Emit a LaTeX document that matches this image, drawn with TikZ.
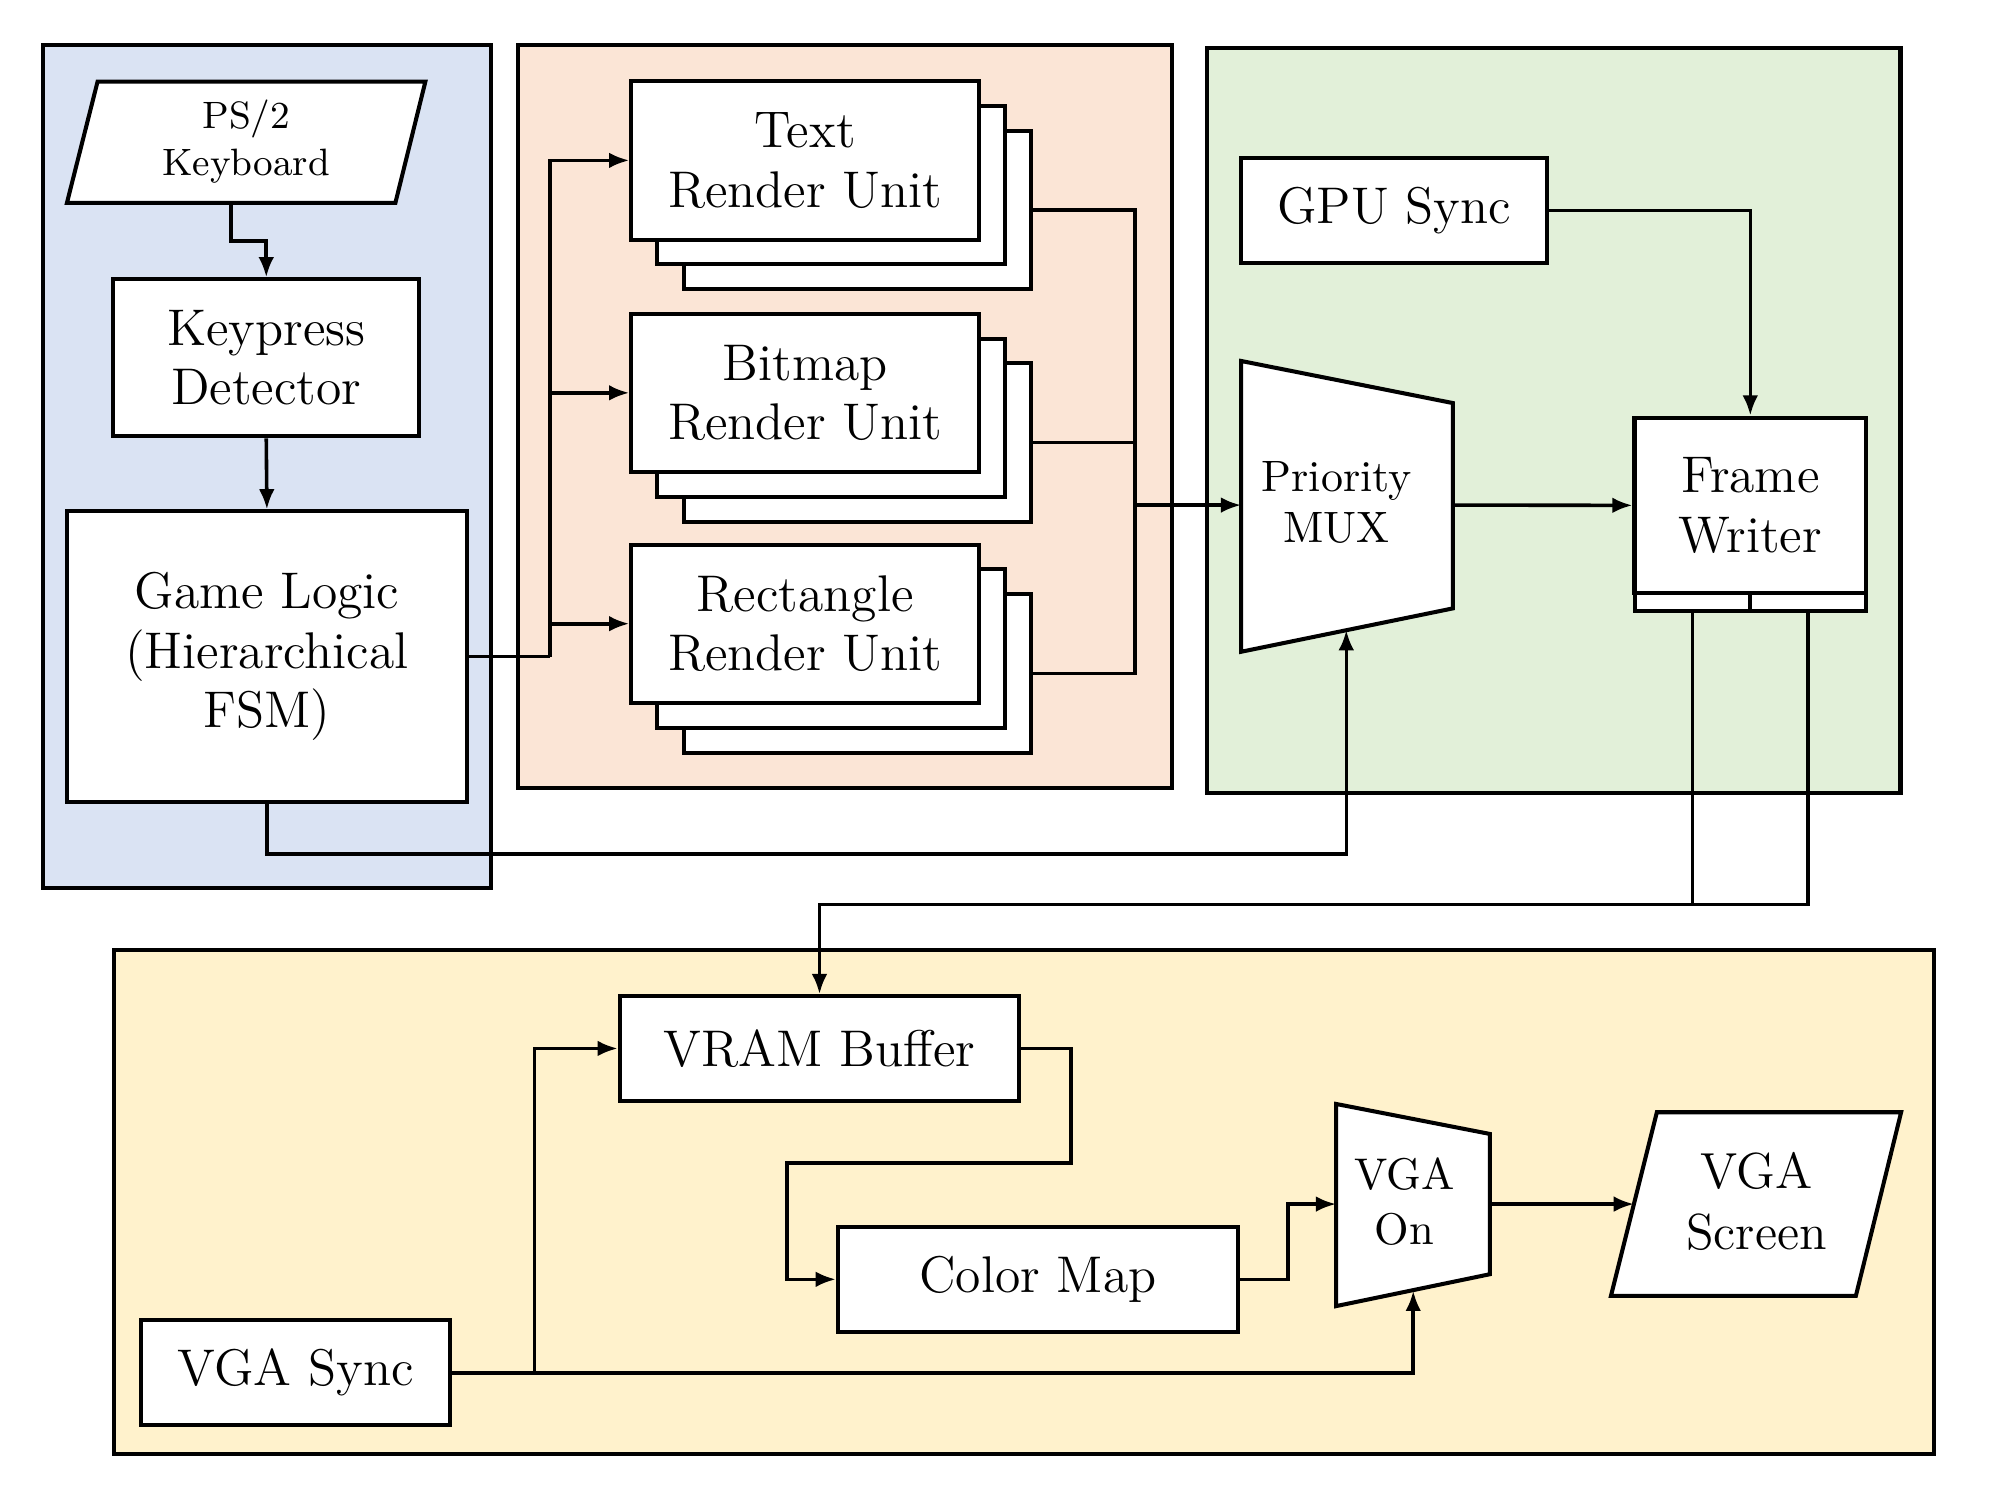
\documentclass[tikz,border=0pt]{standalone}
\usepackage{fontspec}
\usetikzlibrary{arrows.meta,calc}
\definecolor{gBlue}{HTML}{DAE3F3}
\definecolor{gOrange}{HTML}{FBE5D6}
\definecolor{gGreen}{HTML}{E2F0D9}
\definecolor{gYellow}{HTML}{FFF2CC}
\begin{document}
\begin{tikzpicture}[x=0.01cm,y=-0.01cm,
  grp/.style={draw=black,line width=0.9pt},
  shp/.style={draw=black,fill=white,line width=0.9pt,line join=miter},
  blk/.style={draw=black,fill=white,line width=0.9pt,inner sep=0pt,align=center,
    font=\fontsize{11.5}{13.3}\selectfont},
  lbl/.style={inner sep=0pt,align=center},
  conn/.style={line width=0.8pt},
  arr/.style={conn,-{Latex[length=4.5pt,width=3.5pt]}},
  rend/.style={blk,minimum width=2.725cm,minimum height=1.24cm}
  ]
\useasboundingbox (0,0) rectangle (1568,1176);

% group backgrounds
\draw[grp,fill=gBlue] (34,35) rectangle (385,696);
\draw[grp,fill=gOrange] (406,35) rectangle (919,618);
\draw[grp,fill=gGreen] (946.5,38) rectangle (1490,622);
\draw[grp,fill=gYellow] (89,745) rectangle (1516.5,1140);

% left group
\coordinate (kb1) at (76.5,64);
\coordinate (kb2) at (333.5,64);
\coordinate (kb3) at (310,159);
\coordinate (kb4) at (52.5,159);
\draw[shp] (kb1)--(kb2)--(kb3)--(kb4)--cycle;
\node[lbl,font=\fontsize{8.5}{10.5}\selectfont] (kb) at (193,111) {PS/2\\Keyboard};
\coordinate (kbS) at (181,159);

\node[blk,minimum width=2.395cm,minimum height=1.23cm] (kp) at (208.75,280.5) {Keypress\\Detector};
\node[blk,minimum width=3.135cm,minimum height=2.275cm] (gl) at (209.25,514.75) {Game Logic\\(Hierarchical\\FSM)};

% render units (stacked)
\node[rend] (txt3) at (672.25,164.75) {};
\node[rend] (txt2) at (651.75,145.25) {};
\node[rend] (txt) at (631.25,125.75) {Text\\Render Unit};
\node[rend] (bmp3) at (672.25,347) {};
\node[rend] (bmp2) at (651.75,327.5) {};
\node[rend] (bmp) at (631.25,308) {Bitmap\\Render Unit};
\node[rend] (rct3) at (672.25,528) {};
\node[rend] (rct2) at (651.75,508.5) {};
\node[rend] (rct) at (631.25,489) {Rectangle\\Render Unit};

% green group
\node[blk,minimum width=2.40cm,minimum height=0.82cm] (gpu) at (1093,165) {GPU Sync};
\coordinate (mx1) at (973,283);
\coordinate (mx2) at (1139,316);
\coordinate (mx3) at (1139,477);
\coordinate (mx4) at (973,511);
\draw[shp] (mx1)--(mx2)--(mx3)--(mx4)--cycle;
\node[lbl,font=\fontsize{9.8}{11.4}\selectfont] (mux) at (1048,394) {Priority\\MUX};
\coordinate (muxW) at (973,396);
\coordinate (muxE) at (1139,396);
\coordinate (muxS) at (1055.5,494);

\node[blk,minimum width=1.815cm,minimum height=1.376cm] (fw) at (1372.25,396.2) {Frame\\Writer};
\node[blk,minimum width=0.9075cm,minimum height=0.14cm] (fwl) at (1326.9,472) {};
\node[blk,minimum width=0.9075cm,minimum height=0.14cm] (fwr) at (1417.6,472) {};

% yellow group
\node[blk,minimum width=3.13cm,minimum height=0.82cm] (vram) at (642.5,822) {VRAM Buffer};
\node[blk,minimum width=3.135cm,minimum height=0.82cm] (cmap) at (813.75,1003) {Color Map};
\node[blk,minimum width=2.425cm,minimum height=0.825cm] (vsync) at (231.75,1076.25) {VGA Sync};

\coordinate (vg1) at (1047.5,865.5);
\coordinate (vg2) at (1168,889);
\coordinate (vg3) at (1168,999);
\coordinate (vg4) at (1047.5,1024);
\draw[shp] (vg1)--(vg2)--(vg3)--(vg4)--cycle;
\node[lbl,font=\fontsize{9.9}{12.2}\selectfont] (vgaon) at (1101,942) {VGA\\On};
\coordinate (vgaW) at (1047.5,944);
\coordinate (vgaE) at (1168,944);
\coordinate (vgaS) at (1108,1012);

\coordinate (sc1) at (1299,872);
\coordinate (sc2) at (1490.5,872);
\coordinate (sc3) at (1455,1016);
\coordinate (sc4) at (1263,1016);
\draw[shp] (sc1)--(sc2)--(sc3)--(sc4)--cycle;
\node[lbl,font=\fontsize{11.3}{13.6}\selectfont] (scr) at (1377,942) {VGA\\Screen};
\coordinate (scrW) at (1281,944);

% connectors
\draw[arr] (kbS) -- ++(0,30) -| (kp.north);
\draw[arr] (kp.south) -- (gl.north);
\coordinate (bx) at (431,514.75);
\draw[conn] (gl.east) -- (bx);
\draw[arr] (bx) |- (txt.west);
\draw[arr] (bx) |- (bmp.west);
\draw[arr] (bx) |- (rct.west);

\coordinate (mx) at (890,396);
\draw[conn] (txt3.east) -| (mx);
\draw[conn] (bmp3.east) -| (mx);
\draw[conn] (rct3.east) -| (mx);
\draw[arr] (mx) -- (muxW);
\draw[arr] (muxE) -- (fw.west);
\draw[arr] (gpu.east) -| (fw.north);
\draw[arr] (gl.south) -- ++(0,39.5) -| (muxS);

\coordinate (jn) at (1326.9,709);
\draw[conn] (fwl.south) -- (jn);
\draw[arr] (fwr.south) |- (jn) -| (vram.north);

\draw[arr] (vram.east) -- ++(39,0) |- ($(cmap.west)+(-38.5,-91)$) |- (cmap.west);
\draw[arr] (cmap.east) -- ++(37.5,0) |- (vgaW);
\draw[arr] (vgaE) -- (scrW);

\coordinate (sj) at (419,1076.25);
\draw[conn] (vsync.east) -- (sj);
\draw[arr] (sj) |- (vram.west);
\draw[arr] (sj) -| (vgaS);
\end{tikzpicture}
\end{document}
